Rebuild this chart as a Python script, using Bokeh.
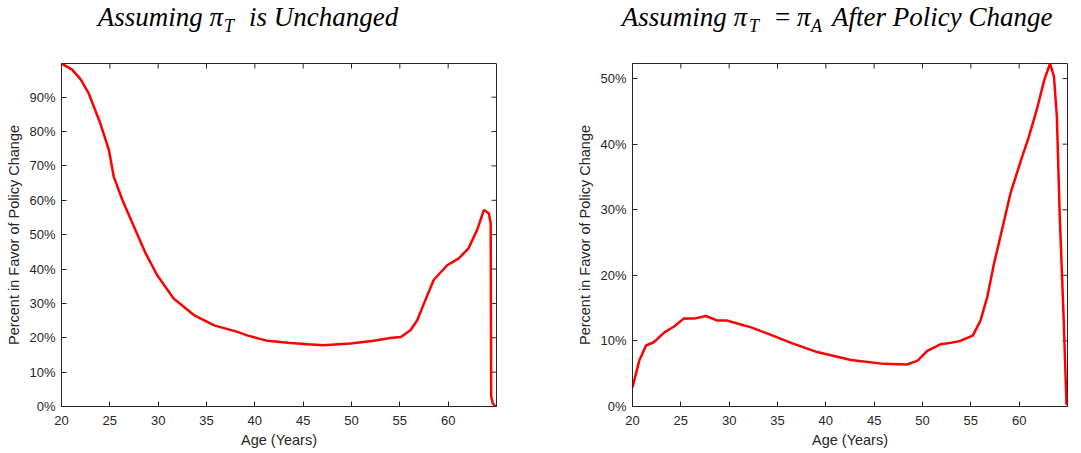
import math
from bokeh.plotting import figure
from bokeh.layouts import row, column
from bokeh.models import Div, FixedTicker, NumeralTickFormatter, Range1d
from bokeh.embed import file_html
from bokeh.resources import INLINE

# ---- data ----
age_unchanged = [20, 21.1, 22.0, 22.8, 24.0, 24.9, 25.4, 26.3, 27.5, 28.7, 29.9, 31.6,
                 33.7, 35.8, 38.2, 39.2, 41.3, 43.7, 45.5, 47.1, 49.9, 52.3, 54.0, 55.1,
                 56.1, 56.8, 57.5, 58.5, 59.9, 61.1, 62.1, 63.0, 63.7, 64.2, 64.4,
                 64.45, 64.6, 64.9]
pct_unchanged = [99.8, 98.0, 95.1, 91.2, 82.5, 74.7, 66.9, 60.1, 52.3, 44.6, 38.2, 31.4,
                 26.6, 23.6, 21.7, 20.7, 19.1, 18.5, 18.1, 17.8, 18.3, 19.1, 19.9, 20.2,
                 22.2, 25.1, 30.0, 36.8, 41.1, 43.1, 46.0, 51.4, 57.2, 56.2, 53.3,
                 3.0, 1.0, 0.0]

age_equal = [20, 20.7, 21.4, 22.2, 23.3, 24.3, 25.3, 26.4, 27.6, 28.8, 29.8, 31.2, 32.2,
             34.0, 36.4, 39.1, 42.6, 46.0, 48.4, 49.5, 50.5, 51.9, 52.9, 53.9, 55.2,
             56.0, 56.7, 57.4, 58.3, 59.1, 60.2, 61.0, 61.9, 62.6, 63.2, 63.6, 63.9,
             64.2, 64.6, 64.9]
pct_equal = [2.9, 7.0, 9.3, 9.8, 11.3, 12.2, 13.4, 13.4, 13.8, 13.1, 13.1, 12.5, 12.1,
             11.1, 9.7, 8.3, 7.1, 6.5, 6.4, 7.0, 8.5, 9.5, 9.7, 10.0, 10.8,
             13.1, 16.7, 21.8, 27.4, 32.5, 37.6, 41.1, 45.7, 49.8, 52.3, 50.3, 44.2,
             28.9, 13.6, 0.2]

x_ticks = [20, 25, 30, 35, 40, 45, 50, 55, 60]
y_ticks_left = [0, 0.1, 0.2, 0.3, 0.4, 0.5, 0.6, 0.7, 0.8, 0.9]
y_ticks_right = [0, 0.1, 0.2, 0.3, 0.4, 0.5]

x_label = "Age (Years)"
y_label = "Percent in Favor of Policy Change"

AX = "#262626"
FRAME_W, FRAME_H = 435, 343
XMIN, XMAX = 20, 65


def make_panel(ages, pcts, ymax, yticks, left_border, right_border):
    p = figure(frame_width=FRAME_W, frame_height=FRAME_H,
               min_border_left=left_border, min_border_right=right_border,
               min_border_top=5, min_border_bottom=47,
               x_range=Range1d(XMIN, XMAX), y_range=Range1d(0, ymax),
               output_backend="svg", toolbar_location=None)
    p.grid.visible = False
    p.outline_line_color = AX
    p.outline_line_width = 1
    p.background_fill_color = "white"
    p.border_fill_color = "white"

    for ax, ticks in ((p.xaxis[0], x_ticks), (p.yaxis[0], yticks)):
        ax.ticker = FixedTicker(ticks=ticks)
        ax.major_tick_in = 5
        ax.major_tick_out = 0
        ax.minor_tick_line_color = None
        ax.major_tick_line_color = AX
        ax.axis_line_color = AX
        ax.major_label_text_font = "Liberation Sans"
        ax.major_label_text_font_size = "13px"
        ax.major_label_text_color = AX
        ax.axis_label_text_font = "Liberation Sans"
        ax.axis_label_text_font_size = "14.5px"
        ax.axis_label_text_font_style = "normal"
        ax.axis_label_text_color = AX

    xa = p.xaxis[0]
    xa.axis_label = x_label
    xa.major_label_standoff = 9
    xa.axis_label_standoff = 4

    ya = p.yaxis[0]
    ya.axis_label = y_label
    ya.formatter = NumeralTickFormatter(format="0%")
    ya.major_label_standoff = 6
    ya.axis_label_standoff = 4

    # inward ticks on the top and right edges of the box
    p.ray(x=x_ticks, y=[ymax] * len(x_ticks), length=5, length_units="screen",
          angle=-math.pi / 2, line_color=AX, line_width=1)
    p.ray(x=[XMAX] * len(yticks), y=yticks, length=5, length_units="screen",
          angle=math.pi, line_color=AX, line_width=1)

    p.line(ages, [v / 100.0 for v in pcts], line_color="#ff0000", line_width=2.5)
    return p


SERIF = "font-family:'Liberation Serif',serif;font-style:italic;color:#000;white-space:nowrap;"


def span(txt, size, top, left=None, right=None, italic=True):
    pos = f"left:{left}px;" if left is not None else f"right:{right}px;"
    st = SERIF if italic else SERIF.replace("font-style:italic;", "font-style:normal;")
    return (f"<span style=\"position:absolute;{pos}top:{top}px;font-size:{size}px;"
            f"line-height:{size}px;{st}\">{txt}</span>")


def title_div(width, pieces):
    html = (f"<div style=\"position:relative;width:{width}px;height:58px;\">"
            + "".join(pieces) + "</div>")
    return Div(text=html, width=width, height=58, margin=0)


# left panel (canvas x 0..540)
p1 = make_panel(age_unchanged, pct_unchanged, 0.998, y_ticks_left, 61, 44)
d1 = title_div(540, [
    span("Assuming \u03c0", 27, 4, right=540 - 223),
    span("T", 18, 17, left=224),
    span("is Unchanged", 27, 4, left=249),
])

# right panel (canvas x 540..1081)
p2 = make_panel(age_equal, pct_equal, 0.523, y_ticks_right, 92, 14)
d2 = title_div(541, [
    span("Assuming \u03c0", 27, 4, right=541 - 207),
    span("T", 18, 17, left=209),
    span("=", 27, 4, left=235, italic=False),
    span("\u03c0", 27, 4, left=257),
    span("A", 18, 17, left=271),
    span("After Policy Change", 27, 4, left=292),
])

layout = column(row(d1, d2), row(p1, p2))
open("out.html", "w").write(file_html(layout, INLINE))
